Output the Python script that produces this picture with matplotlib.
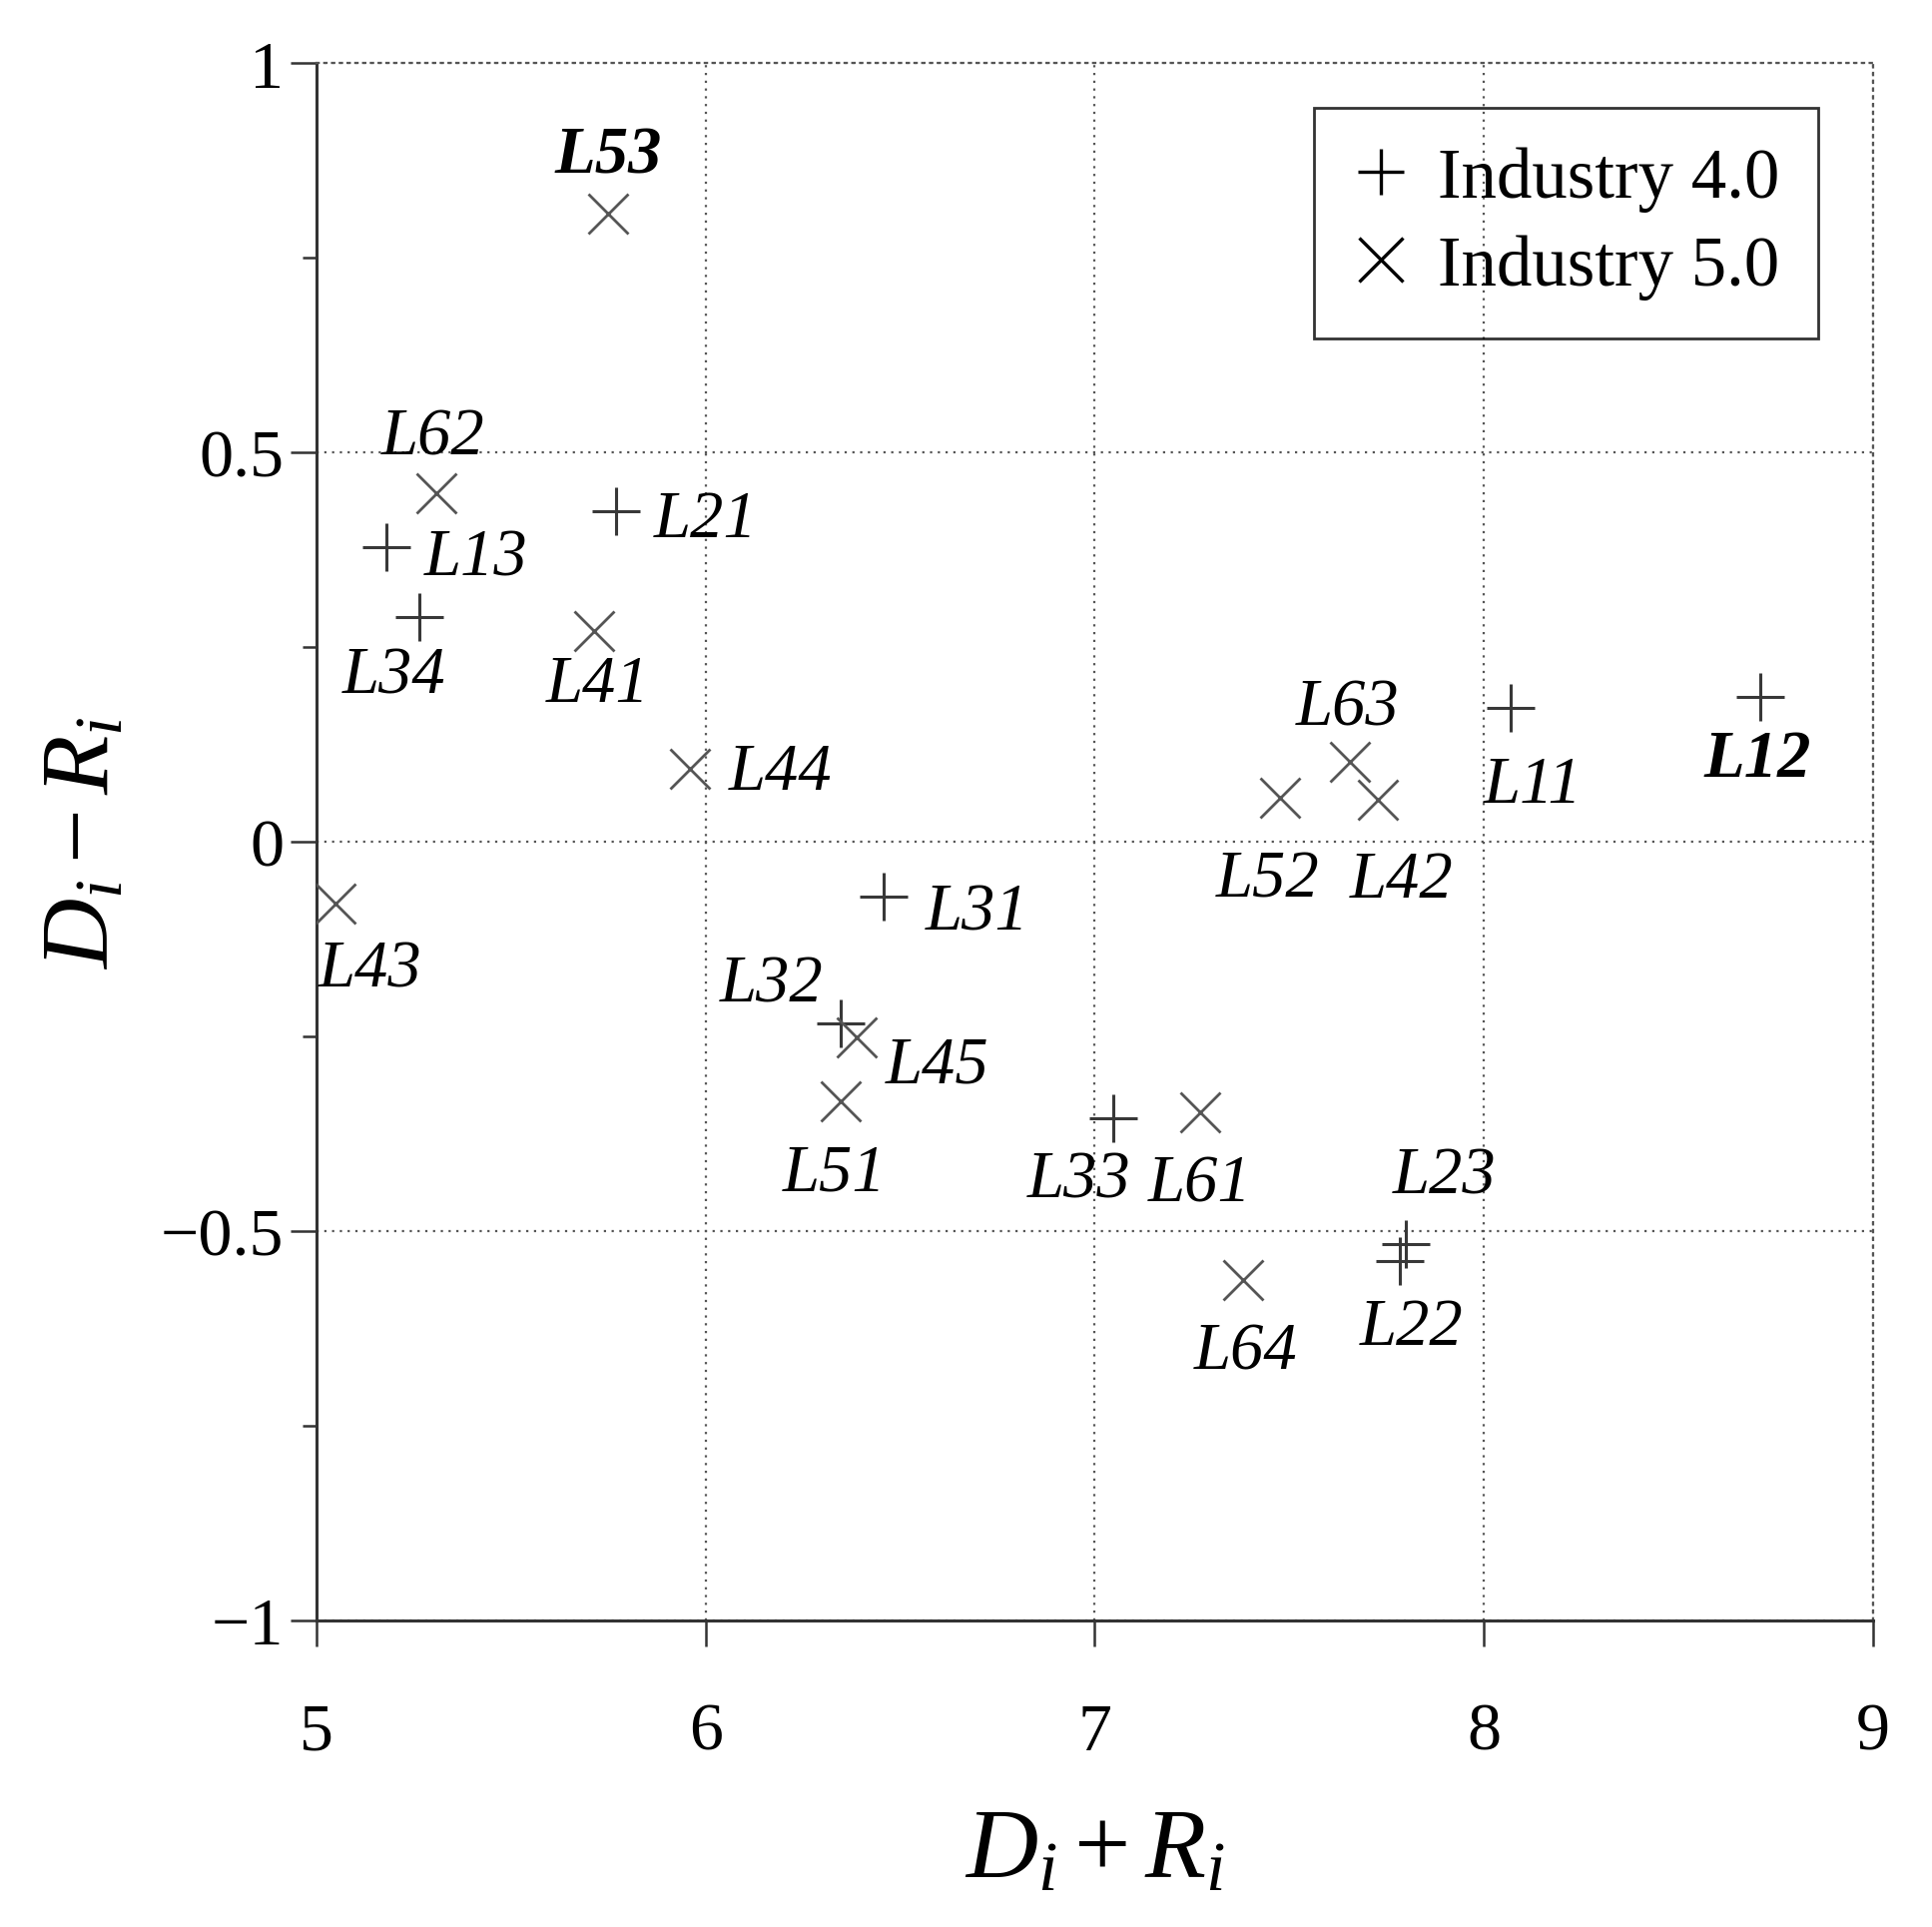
import matplotlib
matplotlib.use("Agg")
import matplotlib.pyplot as plt
from matplotlib.ticker import MultipleLocator
from matplotlib.lines import Line2D

plt.rcParams['font.family'] = 'Liberation Serif'
plt.rcParams['mathtext.fontset'] = 'custom'
plt.rcParams['mathtext.rm'] = 'Liberation Serif'
plt.rcParams['mathtext.it'] = 'Liberation Serif:italic'

# Industry 4.0 factors (plus marks)
i4_names = ["L11", "L12", "L13", "L21", "L22", "L23", "L31", "L32", "L33", "L34"]
i4_x = [8.07, 8.71, 5.18, 5.77, 7.785, 7.80, 6.458, 6.347, 7.048, 5.263]
i4_y = [0.172, 0.186, 0.378, 0.424, -0.538, -0.517, -0.070, -0.233, -0.355, 0.288]

# Industry 5.0 factors (cross marks)
i5_names = ["L41", "L42", "L43", "L44", "L45", "L51", "L52", "L53", "L61", "L62", "L63", "L64"]
i5_x = [5.714, 7.727, 5.047, 5.959, 6.388, 6.346, 7.477, 5.749, 7.270, 5.306, 7.656, 7.380]
i5_y = [0.271, 0.054, -0.079, 0.094, -0.251, -0.333, 0.057, 0.806, -0.347, 0.448, 0.103, -0.563]

bold_names = ["L12", "L53"]

# label offsets in points
label_offsets = {
    "L11": (16, -56), "L12": (-2, -45), "L13": (64, -8), "L21": (64, -6),
    "L22": (8, -48), "L23": (28, 49), "L31": (67, -12), "L32": (-50, 28),
    "L33": (-25, -45), "L34": (-18, -42), "L41": (2, -39), "L42": (17, -58),
    "L43": (25, -48), "L44": (65, -3), "L45": (58, -20), "L51": (-4, -52),
    "L52": (-9, -59), "L53": (0, 42), "L61": (0, -52), "L62": (-2, 40),
    "L63": (-2, 39), "L64": (2, -52),
}

fig = plt.figure(figsize=(19.35, 19.31), dpi=100)
ax = fig.add_axes([0.164, 0.159, 0.8053, 0.8078])

ax.plot(i4_x, i4_y, linestyle='none', marker='+', markersize=34,
        markeredgewidth=2.2, color='#383838', zorder=3)
ax.plot(i5_x, i5_y, linestyle='none', marker='x', markersize=29,
        markeredgewidth=2.0, color='#555555', zorder=3)

for names, xs, ys in [(i4_names, i4_x, i4_y), (i5_names, i5_x, i5_y)]:
    for n, x, y in zip(names, xs, ys):
        ax.annotate(n, (x, y), xytext=label_offsets[n], textcoords='offset points',
                    ha='center', va='center', fontsize=48, style='italic',
                    fontweight='bold' if n in bold_names else 'normal')

# legend with black marks
handles = [
    Line2D([], [], linestyle='none', marker='+', markersize=33, markeredgewidth=2.4, color='black'),
    Line2D([], [], linestyle='none', marker='x', markersize=31, markeredgewidth=2.4, color='black'),
]
leg = ax.legend(handles, ['Industry 4.0', 'Industry 5.0'], loc='upper right',
                bbox_to_anchor=(0.965, 0.9715), borderaxespad=0, fontsize=51,
                frameon=True, fancybox=False, facecolor='none', edgecolor='black',
                handletextpad=0.4, handlelength=0.8, borderpad=0.55, labelspacing=0.32)
leg.get_frame().set_linewidth(2.0)

ax.set_xlim(5, 9)
ax.set_ylim(-1, 1)
ax.xaxis.set_major_locator(MultipleLocator(1))
ax.yaxis.set_minor_locator(MultipleLocator(0.25))
ax.set_yticks([-1, -0.5, 0, 0.5, 1])
ax.set_yticklabels(['\u22121', '\u22120.5', '0', '0.5', '1'])

ax.grid(True, which='major', linestyle=(0, (1, 2.5)), color='#555555', linewidth=1.6)
for s in ['top', 'right']:
    ax.spines[s].set_linestyle((0, (1, 2.5)))
    ax.spines[s].set_color('#555555')
    ax.spines[s].set_linewidth(1.6)
for s in ['left', 'bottom']:
    ax.spines[s].set_linewidth(2.2)
    ax.spines[s].set_color('#333333')

ax.tick_params(axis='both', which='major', direction='out', length=19, width=1.8,
               labelsize=49, color='#333333')
ax.tick_params(axis='x', which='major', pad=40)
ax.tick_params(axis='y', which='major', pad=5)
ax.tick_params(axis='y', which='minor', direction='out', length=10, width=1.8, color='#333333')
ax.tick_params(top=False, right=False)

ax.set_xlabel(r'$D_i + R_i$', fontsize=72)
ax.set_ylabel(r'$D_i - R_i$', fontsize=70)
ax.xaxis.label.set_va('center')
ax.yaxis.label.set_va('center')
ax.xaxis.set_label_coords(0.5, -0.149)
ax.yaxis.set_label_coords(-0.148, 0.5)

fig.savefig('out.png', dpi=100)
